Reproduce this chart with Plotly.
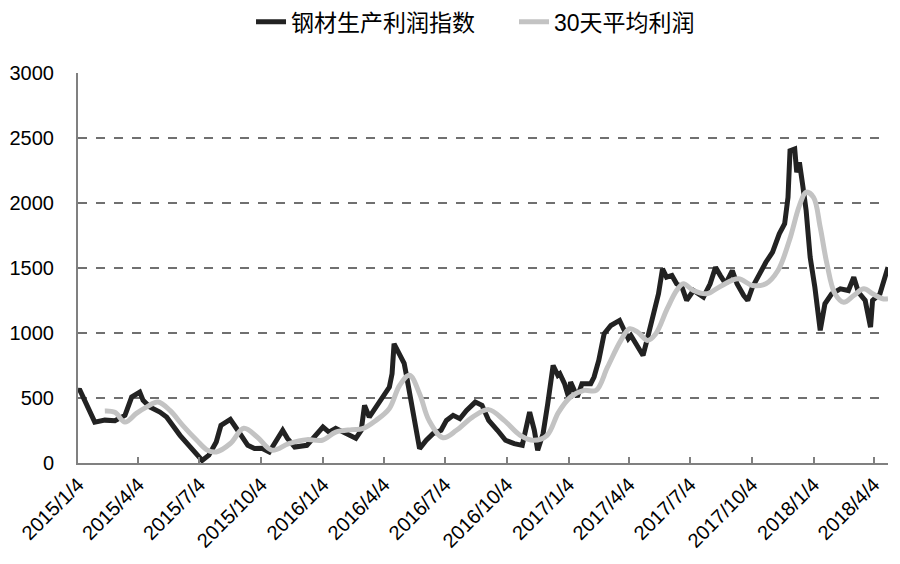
import plotly.graph_objects as go

# ---- data ----
profit_dates = [
    "2015-01-04", "2015-01-07", "2015-01-29", "2015-02-13", "2015-02-28", "2015-03-15",
    "2015-03-25", "2015-04-06", "2015-04-11", "2015-04-21", "2015-05-06", "2015-05-16",
    "2015-06-05", "2015-06-20", "2015-07-04", "2015-07-08", "2015-07-18", "2015-07-29",
    "2015-08-05", "2015-08-19", "2015-08-29", "2015-09-08", "2015-09-14", "2015-09-24",
    "2015-10-05", "2015-10-16", "2015-10-26", "2015-11-05", "2015-11-12", "2015-11-23",
    "2015-12-11", "2015-12-20", "2016-01-04", "2016-01-13", "2016-01-23", "2016-02-07",
    "2016-02-22", "2016-03-01", "2016-03-06", "2016-03-13", "2016-03-23", "2016-04-01",
    "2016-04-12", "2016-04-16", "2016-04-19", "2016-04-24", "2016-04-29", "2016-05-04",
    "2016-05-07", "2016-05-12", "2016-05-19", "2016-05-27", "2016-06-06", "2016-06-16",
    "2016-06-28", "2016-07-06", "2016-07-16", "2016-07-26", "2016-08-05", "2016-08-18",
    "2016-08-28", "2016-09-07", "2016-09-20", "2016-10-02", "2016-10-15", "2016-10-27",
    "2016-11-07", "2016-11-14", "2016-11-19", "2016-11-27", "2016-12-04", "2016-12-12",
    "2016-12-19", "2016-12-22", "2016-12-29", "2017-01-04", "2017-01-07", "2017-01-17",
    "2017-01-24", "2017-02-06", "2017-02-11", "2017-02-18", "2017-02-26", "2017-03-08",
    "2017-03-21", "2017-03-26", "2017-04-03", "2017-04-07", "2017-04-17", "2017-04-25",
    "2017-05-02", "2017-05-10", "2017-05-18", "2017-05-24", "2017-05-30", "2017-06-07",
    "2017-06-14", "2017-06-22", "2017-06-29", "2017-07-09", "2017-07-24", "2017-08-03",
    "2017-08-11", "2017-08-18", "2017-08-26", "2017-09-05", "2017-09-12", "2017-09-22",
    "2017-09-28", "2017-10-05", "2017-10-15", "2017-10-25", "2017-11-04", "2017-11-14",
    "2017-11-22", "2017-11-27", "2017-11-30", "2017-12-07", "2017-12-10", "2017-12-14",
    "2017-12-19", "2017-12-24", "2017-12-30", "2018-01-06", "2018-01-14", "2018-01-21",
    "2018-01-31", "2018-02-13", "2018-02-25", "2018-03-05", "2018-03-12", "2018-03-22",
    "2018-03-30", "2018-04-02", "2018-04-13", "2018-04-23", "2018-04-25",
]
profit_index = [
    560, 559, 315, 330, 325, 367,
    508, 546, 482, 431, 392, 354,
    213, 123, 36, 20, 60, 162,
    290, 335, 260, 175, 136, 111,
    113, 85, 175, 252, 190, 123,
    136, 190, 277, 238, 267, 228,
    190, 252, 444, 354, 431, 508,
    585, 688, 918, 867, 815, 767,
    688, 534, 303, 111, 175, 226,
    252, 328, 367, 341, 405, 469,
    444, 328, 252, 175, 149, 136,
    392, 252, 98, 226, 457, 751,
    675, 688, 611, 508, 623, 508,
    611, 611, 662, 790, 995, 1059,
    1098, 1046, 957, 982, 892, 828,
    969, 1123, 1303, 1495, 1431, 1444,
    1380, 1354, 1252, 1328, 1277, 1380,
    1508, 1445, 1380, 1482, 1380, 1290,
    1252, 1354, 1457, 1546, 1623, 1765,
    1842, 2046, 2405, 2418, 2238, 2315,
    2136, 1944, 1585, 1354, 1021, 1226,
    1303, 1341, 1328, 1431, 1315, 1252,
    1046, 1252, 1303, 1482, 1508,
]

avg_dates = [
    "2015-02-13", "2015-02-28", "2015-03-15", "2015-04-01", "2015-04-16", "2015-05-03",
    "2015-05-21", "2015-06-09", "2015-06-30", "2015-07-16", "2015-07-29", "2015-08-19",
    "2015-09-08", "2015-09-28", "2015-10-20", "2015-11-14", "2015-12-11", "2016-01-03",
    "2016-01-23", "2016-02-16", "2016-03-03", "2016-03-23", "2016-04-12", "2016-04-27",
    "2016-05-12", "2016-05-27", "2016-06-10", "2016-07-01", "2016-07-21", "2016-08-14",
    "2016-09-07", "2016-09-30", "2016-10-24", "2016-11-13", "2016-12-03", "2016-12-20",
    "2017-01-07", "2017-01-27", "2017-02-14", "2017-03-03", "2017-03-23", "2017-04-05",
    "2017-04-17", "2017-05-02", "2017-05-14", "2017-05-31", "2017-06-14", "2017-06-24",
    "2017-07-09", "2017-07-29", "2017-08-18", "2017-09-14", "2017-10-05", "2017-10-25",
    "2017-11-12", "2017-11-29", "2017-12-14", "2017-12-24", "2018-01-04", "2018-01-14",
    "2018-01-24", "2018-02-05", "2018-02-18", "2018-03-05", "2018-03-20", "2018-04-02",
    "2018-04-17", "2018-04-25",
]
avg_profit = [
    400, 390, 315, 382, 430, 469,
    405, 290, 175, 98, 85, 150,
    267, 200, 98, 149, 180, 175,
    238, 257, 264, 328, 420, 595,
    675, 534, 328, 195, 252, 354,
    411, 328, 213, 175, 213, 390,
    508, 559, 559, 738, 944, 1034,
    1008, 944, 995, 1188, 1328, 1380,
    1328, 1303, 1360, 1418, 1367, 1380,
    1482, 1713, 1982, 2085, 2046, 1815,
    1534, 1303, 1238, 1290, 1341, 1303,
    1265, 1265,
]

tick_dates = [
    "2015-01-04", "2015-04-04", "2015-07-04", "2015-10-04",
    "2016-01-04", "2016-04-04", "2016-07-04", "2016-10-04",
    "2017-01-04", "2017-04-04", "2017-07-04", "2017-10-04",
    "2018-01-04", "2018-04-04",
]
tick_labels = [
    "2015/1/4", "2015/4/4", "2015/7/4", "2015/10/4",
    "2016/1/4", "2016/4/4", "2016/7/4", "2016/10/4",
    "2017/1/4", "2017/4/4", "2017/7/4", "2017/10/4",
    "2018/1/4", "2018/4/4",
]
series_names = ["钢材生产利润指数", "30天平均利润"]

FONT = "Liberation Sans, Noto Sans CJK SC, sans-serif"

fig = go.Figure()
fig.add_trace(go.Scatter(
    x=profit_dates, y=profit_index, mode="lines", name=series_names[0],
    line=dict(color="#222222", width=5),
))
fig.add_trace(go.Scatter(
    x=avg_dates, y=avg_profit, mode="lines", name=series_names[1],
    line=dict(color="#c3c3c3", width=5, shape="spline", smoothing=1.0),
))

# the page body adds an 8px offset, so the figure is sized to fit the window
fig.update_layout(
    width=892, height=556,
    margin=dict(l=70, r=12, t=65, b=101, autoexpand=False),
    paper_bgcolor="white", plot_bgcolor="white",
    font=dict(family=FONT, size=20, color="#000000"),
    showlegend=True,
    legend=dict(
        orientation="h", x=0.2136, xanchor="left", y=1.131, yanchor="middle",
        font=dict(family=FONT, size=23, color="#000000"),
        bgcolor="rgba(0,0,0,0)", entrywidth=218,
    ),
)
fig.update_xaxes(
    type="date",
    range=["2015-01-04", "2018-04-25"],
    tickvals=tick_dates, ticktext=tick_labels,
    tickangle=-45,
    showgrid=False,
    showline=True, linecolor="#808080", linewidth=2,
    ticks="inside", ticklen=6, tickwidth=2, tickcolor="#808080",
    tickfont=dict(family=FONT, size=20),
    automargin=False,
)
fig.update_yaxes(
    range=[0, 3003], dtick=500, tick0=0,
    showgrid=True, gridcolor="#707070", griddash="dash", gridwidth=1.5,
    zeroline=False,
    showline=True, linecolor="#808080", linewidth=2,
    ticks="", ticklabelstandoff=18,
    tickfont=dict(family=FONT, size=20),
    automargin=False,
)

fig.write_html("out.html")
